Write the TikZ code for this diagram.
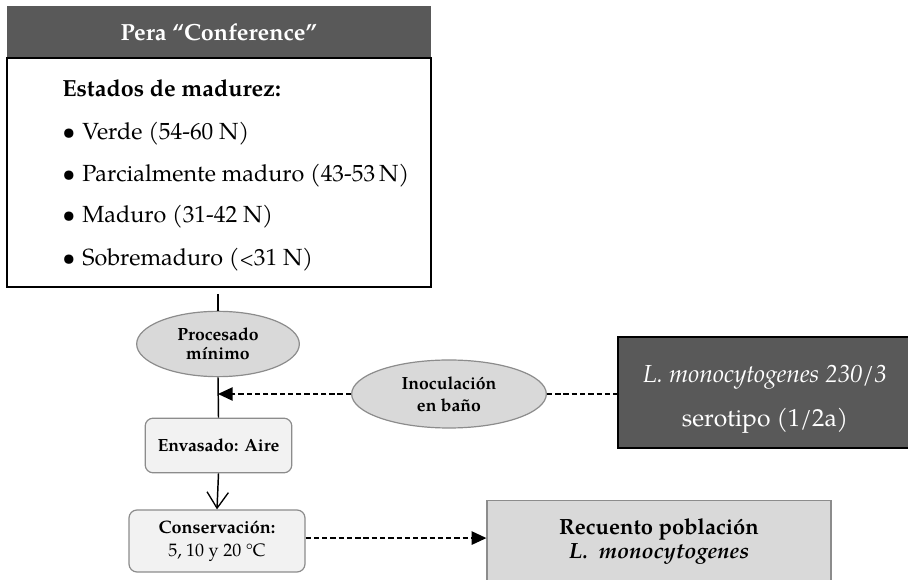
\documentclass[tikz,border=0pt]{standalone}
\usepackage{fontspec}
\setmainfont{TeX Gyre Pagella}
\usetikzlibrary{shapes.geometric,arrows.meta}
\definecolor{darkfill}{HTML}{595959}
\definecolor{midfill}{HTML}{D9D9D9}
\definecolor{lightfill}{HTML}{F2F2F2}
\definecolor{edgegray}{HTML}{8C8C8C}
\begin{document}
\begin{tikzpicture}[x=0.75pt,y=-0.75pt,
  header/.style={fill=darkfill, text=white, font=\bfseries\fontsize{17.5}{20}\selectfont,
    minimum width=318pt, minimum height=39pt, inner sep=0},
  bodybox/.style={draw=black, line width=1.3pt, minimum width=318pt, minimum height=171.75pt, inner sep=0},
  listline/.style={anchor=base west, inner sep=0, font=\fontsize{17.5}{21}\selectfont},
  oval/.style={ellipse, draw=edgegray, fill=midfill, line width=0.9pt, inner sep=0, align=center,
    font=\bfseries\fontsize{13.2}{15.5}\selectfont},
  stepbox/.style={rounded corners=6pt, draw=edgegray, fill=lightfill, line width=0.9pt, inner sep=0,
    align=center, font=\fontsize{13.5}{16}\selectfont},
  darkbox/.style={draw=black, fill=darkfill, line width=1.3pt, inner sep=0},
  countbox/.style={draw=edgegray, fill=midfill, line width=0.9pt, inner sep=0},
  plainlabel/.style={inner sep=0, anchor=base},
  solidline/.style={line width=1.1pt},
  dashline/.style={line width=1.1pt, dash pattern=on 4pt off 2.2pt},
  filledtip/.style={-{Triangle[length=11pt,width=10pt]}},
  opentip/.style={-{Straight Barb[length=12pt,width=16pt,line width=1pt]}}
]
\useasboundingbox (0,0) rectangle (908,580);

% Pear block: header and list of ripeness stages
\node[header] (pera) at (219,32) {Pera “Conference”};
\node[bodybox] (estadosbox) at (219,172.5) {};
\node[listline, font=\bfseries\fontsize{17.5}{21}\selectfont] (estados) at (62,97) {Estados de madurez:};
\node[listline] (verde) at (62,140) {\makebox[15pt][l]{•}Verde (54-60 N)};
\node[listline] (parcial) at (62,182) {\makebox[15pt][l]{•}Parcialmente maduro (43-53\,N)};
\node[listline] (maduro) at (62,223) {\makebox[15pt][l]{•}Maduro (31-42 N)};
\node[listline] (sobre) at (62,266) {\makebox[15pt][l]{•}Sobremaduro ({\fontsize{14}{17}\selectfont<}31 N)};

% Processing chain
\node[oval, minimum width=122pt, minimum height=49pt] (proc) at (218,344) {Procesado\\[-1pt]mínimo};
\node[oval, minimum width=146pt, minimum height=51pt] (inoc) at (449,394) {Inoculación\\[1pt]en baño};
\node[stepbox, minimum width=110pt, minimum height=41pt, font=\bfseries\fontsize{13.2}{15}\selectfont] (env) at (218.5,445.5) {Envasado: Aire};
\node[stepbox, minimum width=132pt, minimum height=46.5pt] (cons) at (217,541) {\textbf{Conservación:}\\[1pt]5, 10 y 20 °C};

% Strain box
\node[darkbox, minimum width=220.5pt, minimum height=83pt] (cepa) at (765,392.5) {};
\node[plainlabel, text=white, font=\fontsize{18.5}{22}\selectfont] (cepa1) at (765,383) {\textit{L. monocytogenes} \textit{230/3}};
\node[plainlabel, text=white, font=\fontsize{18.5}{22}\selectfont] (cepa2) at (765,427) {serotipo (1/2a)};

% Count box
\node[countbox, minimum width=258pt, minimum height=70pt] (recuento) at (659,547) {};
\node[plainlabel, font=\bfseries\fontsize{16.5}{20}\selectfont] (rec1) at (659,535) {Recuento población};
\node[plainlabel, font=\bfseries\itshape\fontsize{16.5}{20}\selectfont] (rec2) at (659,559) {L.\ \ monocytogenes};

% Connectors
\coordinate (joint) at (proc.south |- inoc.west);
\draw[solidline, shorten <=4.5pt] (proc.north |- estadosbox.south) -- (proc.north);
\draw[solidline] (proc.south) -- (env.north);
\draw[dashline, filledtip] (inoc.west) -- (joint);
\draw[dashline] (inoc.east) -- (inoc.east -| cepa.west);
\draw[solidline, opentip] (env.south) -- (cons.north);
\draw[dashline, filledtip] ([yshift=2.2pt]cons.east) -- ([yshift=2.2pt]cons.east -| recuento.west);
\end{tikzpicture}
\end{document}
